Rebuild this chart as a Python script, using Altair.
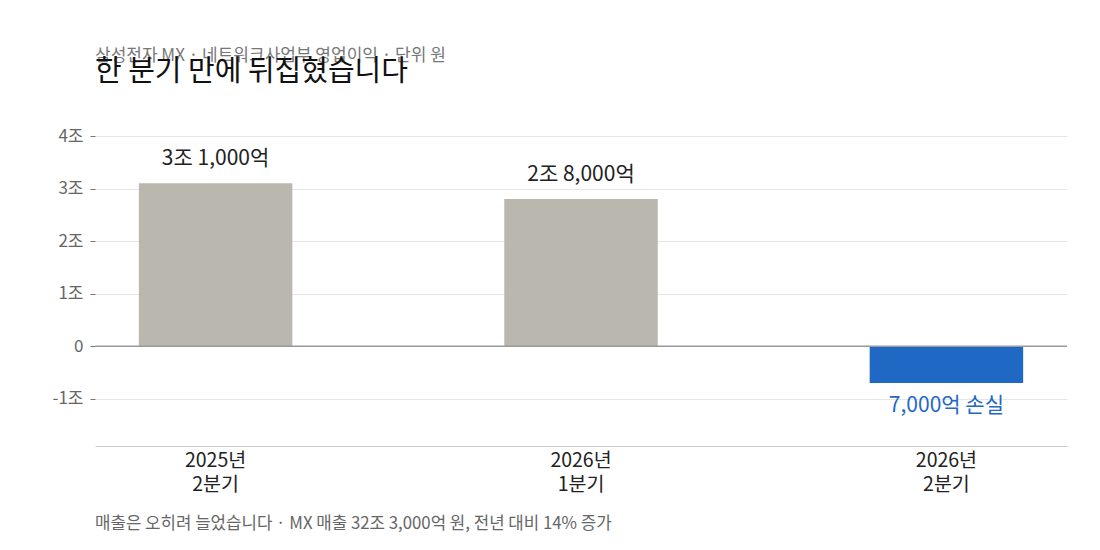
import altair as alt
import pandas as pd

FONT = "Noto Sans CJK KR"

periods = ["2025년|2분기", "2026년|1분기", "2026년|2분기"]
values = [3.1, 2.8, -0.7]
value_labels = ["3조 1,000억", "2조 8,000억", "7,000억 손실"]

kicker = "삼성전자 MX · 네트워크사업부 영업이익 · 단위 원"
title = "한 분기 만에 뒤집혔습니다"
footer = "매출은 오히려 늘었습니다 · MX 매출 32조 3,000억 원, 전년 대비 14% 증가"

y_ticks = [-1, 0, 1, 2, 3, 4]

GRAY = "#bab7ae"
BLUE = "#1f69c5"

df = pd.DataFrame({"period": periods, "value": values, "label": value_labels})

x = alt.X(
    "period:N",
    sort=periods,
    scale=alt.Scale(paddingInner=0.58, paddingOuter=0.12),
    axis=alt.Axis(
        title=None,
        labelAngle=0,
        labelExpr="split(datum.label, '|')",
        labelFontSize=19.5,
        labelColor="#222222",
        labelFont=FONT,
        labelLineHeight=24,
        labelPadding=5,
        ticks=False,
        domainColor="#cccccc",
        domainWidth=1,
        grid=False,
    ),
)

y = alt.Y(
    "value:Q",
    scale=alt.Scale(domain=[-1.9, 4], nice=False, zero=False),
    axis=alt.Axis(
        title=None,
        values=y_ticks,
        labelExpr="datum.value == 0 ? '0' : datum.value + '조'",
        labelFontSize=17,
        labelColor="#666666",
        labelFont=FONT,
        labelPadding=7,
        tickSize=5,
        tickColor="#777777",
        domain=False,
        grid=True,
        gridColor="#e6e6e6",
    ),
)

base = alt.Chart(df)

bars = base.mark_bar().encode(
    x=x,
    y=y,
    color=alt.condition(alt.datum.value < 0, alt.value(BLUE), alt.value(GRAY)),
)

zero = alt.Chart(pd.DataFrame({"z": [0]})).mark_rule(color="#999999", strokeWidth=1.5).encode(
    y=alt.Y("z:Q")
)

pos_labels = base.transform_filter(alt.datum.value >= 0).mark_text(
    font=FONT, fontSize=21, color="#222222", baseline="middle", dy=-24
).encode(x=alt.X("period:N", sort=periods), y="value:Q", text="label:N")

neg_labels = base.transform_filter(alt.datum.value < 0).mark_text(
    font=FONT, fontSize=21, color="#2468c4", baseline="middle", dy=23
).encode(x=alt.X("period:N", sort=periods), y="value:Q", text="label:N")

kicker_t = alt.Chart(pd.DataFrame({"t": [kicker]})).mark_text(
    font=FONT, fontSize=17, color="#777777", align="left", baseline="middle"
).encode(text="t:N", x=alt.value(0), y=alt.value(-80))

title_t = alt.Chart(pd.DataFrame({"t": [title]})).mark_text(
    font=FONT, fontSize=29, color="#111111", align="left", baseline="middle"
).encode(text="t:N", x=alt.value(0), y=alt.value(-64))

footer_t = alt.Chart(pd.DataFrame({"t": [footer]})).mark_text(
    font=FONT, fontSize=16.8, color="#666666", align="left", baseline="middle"
).encode(text="t:N", x=alt.value(0), y=alt.value(388))

chart = (
    alt.layer(bars, zero, pos_labels, neg_labels, kicker_t, title_t, footer_t)
    .properties(
        width=972,
        height=310,
        background="white",
        autosize=alt.AutoSizeParams(type="none"),
        padding={"left": 87, "top": 128, "right": 25, "bottom": 90},
    )
    .configure_view(strokeWidth=0, stroke="transparent")
)

chart.save("out.html", embed_options={"renderer": "svg", "actions": False})
